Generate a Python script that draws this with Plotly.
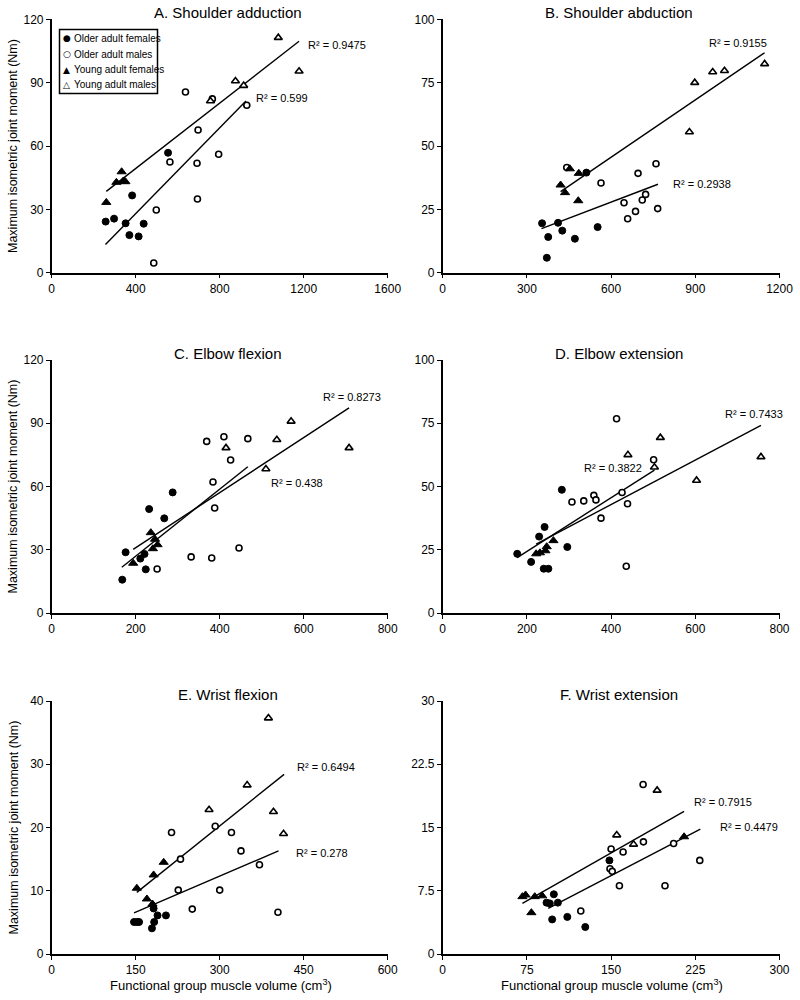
import plotly.graph_objects as go

# ---------------- data ----------------
GROUPS = ["Older adult females", "Older adult males", "Young adult females", "Young adult males"]
LEGEND_GLYPHS = ["●", "○", "▲", "△"]

# Panel A: Shoulder adduction
A_OF_X = [257, 297, 352, 383, 370, 414, 438, 554]
A_OF_Y = [24.2, 25.6, 23.4, 36.6, 17.8, 17.2, 23.2, 56.8]
A_OM_X = [637, 563, 697, 692, 694, 765, 795, 929, 498, 486]
A_OM_Y = [85.6, 52.4, 67.6, 51.8, 34.9, 82.3, 56.1, 79.3, 29.7, 4.6]
A_YF_X = [260, 308, 333, 341, 351]
A_YF_Y = [33.3, 42.8, 47.8, 43.4, 43.1]
A_YM_X = [756, 875, 914, 1079, 1178]
A_YM_Y = [81.3, 90.8, 88.6, 111.3, 95.4]
A_FIT_YOUNG_X = [260, 1178]
A_FIT_YOUNG_Y = [38.5, 109.6]
A_FIT_OLD_X = [256, 925]
A_FIT_OLD_Y = [13.4, 81.3]
A_R2 = ["R² = 0.9475", "R² = 0.599"]

# Panel B: Shoulder abduction
B_OF_X = [354, 376, 371, 411, 426, 471, 552, 512]
B_OF_Y = [19.5, 14.1, 5.9, 19.7, 16.6, 13.4, 18.0, 39.5]
B_OM_X = [442, 564, 646, 659, 687, 711, 723, 696, 760, 766]
B_OM_Y = [41.5, 35.4, 27.6, 21.3, 24.2, 28.7, 30.9, 39.2, 43.0, 25.3]
B_YF_X = [420, 436, 453, 485, 483]
B_YF_Y = [34.6, 31.6, 41.0, 39.2, 28.4]
B_YM_X = [898, 962, 1004, 1147, 879]
B_YM_Y = [75.0, 79.2, 79.7, 82.4, 55.5]
B_FIT_YOUNG_X = [420, 1147]
B_FIT_YOUNG_Y = [32.0, 86.8]
B_FIT_OLD_X = [352, 767]
B_FIT_OLD_Y = [17.4, 34.9]
B_R2 = ["R² = 0.9155", "R² = 0.2938"]

# Panel C: Elbow flexion
C_OF_X = [168, 176, 211, 221, 224, 232, 268, 288]
C_OF_Y = [15.8, 28.8, 25.8, 28.0, 20.7, 49.3, 44.9, 57.2]
C_OM_X = [251, 332, 381, 446, 369, 410, 467, 426, 384, 388]
C_OM_Y = [20.9, 26.6, 26.1, 30.8, 81.4, 83.6, 82.7, 72.6, 62.1, 49.8]
C_YF_X = [194, 236, 241, 246, 252]
C_YF_Y = [23.6, 38.1, 30.5, 35.0, 32.4]
C_YM_X = [415, 510, 536, 570, 708]
C_YM_Y = [78.3, 68.3, 82.2, 90.9, 78.3]
C_FIT_YOUNG_X = [194, 708]
C_FIT_YOUNG_Y = [30.2, 97.3]
C_FIT_OLD_X = [167, 467]
C_FIT_OLD_Y = [21.7, 69.4]
C_R2 = ["R² = 0.8273", "R² = 0.438"]

# Panel D: Elbow extension
D_OF_X = [177, 210, 229, 242, 240, 251, 283, 296]
D_OF_Y = [23.4, 20.2, 30.2, 34.0, 17.5, 17.5, 48.7, 26.1]
D_OM_X = [307, 335, 359, 364, 376, 413, 426, 439, 436, 501]
D_OM_Y = [43.9, 44.3, 46.5, 44.7, 37.5, 76.8, 47.6, 43.2, 18.5, 60.6]
D_YF_X = [222, 231, 244, 247, 263]
D_YF_Y = [23.4, 23.8, 24.6, 26.2, 28.6]
D_YM_X = [440, 503, 517, 603, 756]
D_YM_Y = [62.5, 57.6, 69.3, 52.4, 61.7]
D_FIT_YOUNG_X = [222, 756]
D_FIT_YOUNG_Y = [27.2, 74.2]
D_FIT_OLD_X = [177, 503]
D_FIT_OLD_Y = [21.9, 56.5]
D_R2 = ["R² = 0.7433", "R² = 0.3822"]

# Panel E: Wrist flexion
E_OF_X = [147, 152, 156, 179, 183, 189, 204, 182]
E_OF_Y = [5.06, 5.06, 5.06, 4.06, 5.06, 6.1, 6.1, 7.2]
E_OM_X = [214, 230, 226, 251, 292, 300, 321, 338, 371, 404]
E_OM_Y = [19.2, 15.0, 10.1, 7.1, 20.2, 10.1, 19.2, 16.3, 14.1, 6.6]
E_YF_X = [152, 170, 182, 200, 180]
E_YF_Y = [10.4, 8.7, 12.5, 14.5, 7.9]
E_YM_X = [281, 349, 387, 396, 414]
E_YM_Y = [22.8, 26.7, 37.3, 22.5, 19.0]
E_FIT_YOUNG_X = [152, 415]
E_FIT_YOUNG_Y = [9.75, 28.4]
E_FIT_OLD_X = [147, 405]
E_FIT_OLD_Y = [6.5, 16.3]
E_R2 = ["R² = 0.6494", "R² = 0.278"]

# Panel F: Wrist extension
F_OF_X = [99, 92.5, 95.4, 102.6, 97.5, 111, 127, 148.5]
F_OF_Y = [7.08, 6.09, 6.0, 6.09, 4.1, 4.4, 3.2, 11.1]
F_OM_X = [123, 150, 149, 151, 160.7, 157.4, 178.5, 178.8, 198, 205.7, 229]
F_OM_Y = [5.1, 12.45, 10.1, 9.8, 12.1, 8.1, 20.1, 13.3, 8.1, 13.1, 11.1]
F_YF_X = [71, 73.8, 79, 82, 88.6, 215]
F_YF_Y = [6.8, 7.0, 4.9, 6.8, 6.9, 13.9]
F_YM_X = [155, 170, 191]
F_YM_Y = [14.1, 13.0, 19.4]
F_FIT_YOUNG_X = [71, 215]
F_FIT_YOUNG_Y = [6.0, 16.9]
F_FIT_OLD_X = [94, 229.5]
F_FIT_OLD_Y = [5.4, 14.8]
F_R2 = ["R² = 0.7915", "R² = 0.4479"]

TITLES = ["A. Shoulder adduction", "B. Shoulder abduction", "C. Elbow flexion",
          "D. Elbow extension", "E. Wrist flexion", "F. Wrist extension"]
X_TICKS = [[0, 400, 800, 1200, 1600], [0, 300, 600, 900, 1200], [0, 200, 400, 600, 800],
           [0, 200, 400, 600, 800], [0, 150, 300, 450, 600], [0, 75, 150, 225, 300]]
Y_TICKS = [[0, 30, 60, 90, 120], [0, 25, 50, 75, 100], [0, 30, 60, 90, 120],
           [0, 25, 50, 75, 100], [0, 10, 20, 30, 40], [0, 7.5, 15, 22.5, 30]]
Y_TITLE = "Maximum isometric joint moment (Nm)"
X_TITLE = "Functional group muscle volume (cm<sup>3</sup>)"

PANELS = [
    (A_OF_X, A_OF_Y, A_OM_X, A_OM_Y, A_YF_X, A_YF_Y, A_YM_X, A_YM_Y,
     A_FIT_YOUNG_X, A_FIT_YOUNG_Y, A_FIT_OLD_X, A_FIT_OLD_Y, A_R2),
    (B_OF_X, B_OF_Y, B_OM_X, B_OM_Y, B_YF_X, B_YF_Y, B_YM_X, B_YM_Y,
     B_FIT_YOUNG_X, B_FIT_YOUNG_Y, B_FIT_OLD_X, B_FIT_OLD_Y, B_R2),
    (C_OF_X, C_OF_Y, C_OM_X, C_OM_Y, C_YF_X, C_YF_Y, C_YM_X, C_YM_Y,
     C_FIT_YOUNG_X, C_FIT_YOUNG_Y, C_FIT_OLD_X, C_FIT_OLD_Y, C_R2),
    (D_OF_X, D_OF_Y, D_OM_X, D_OM_Y, D_YF_X, D_YF_Y, D_YM_X, D_YM_Y,
     D_FIT_YOUNG_X, D_FIT_YOUNG_Y, D_FIT_OLD_X, D_FIT_OLD_Y, D_R2),
    (E_OF_X, E_OF_Y, E_OM_X, E_OM_Y, E_YF_X, E_YF_Y, E_YM_X, E_YM_Y,
     E_FIT_YOUNG_X, E_FIT_YOUNG_Y, E_FIT_OLD_X, E_FIT_OLD_Y, E_R2),
    (F_OF_X, F_OF_Y, F_OM_X, F_OM_Y, F_YF_X, F_YF_Y, F_YM_X, F_YM_Y,
     F_FIT_YOUNG_X, F_FIT_YOUNG_Y, F_FIT_OLD_X, F_FIT_OLD_Y, F_R2),
]

# label positions for the R² texts (data coords): (young label, old label)
R2_POS = [((1357, 107.9), (1095, 82.6)), ((1053, 90.5), (924, 34.9)),
          ((714, 102.6), (584, 61.5)), ((740, 78.5), (405, 57.2)),
          ((489, 29.5), (483, 16.0)), ((250, 18.0), (273, 15.1))]

# ---------------- layout geometry (screen pixels of the 800x1000 window) ----------------
W, H = 800, 1000
COL_X = [(51.7, 387.7), (442.7, 779.5)]
ROW_Y = [(19.3, 272.7), (360.0, 613.0), (701.0, 954.0)]


def px(x):
    return x / W


def py(y):
    return 1 - y / H


FONT = "Liberation Sans, Arial, sans-serif"
BLACK = "#000000"

MARKERS = [
    dict(symbol="circle", size=7, color=BLACK, line=dict(color=BLACK, width=1)),
    dict(symbol="circle", size=6, color="white", line=dict(color=BLACK, width=1.6)),
    dict(symbol="triangle-up", size=8, color=BLACK, line=dict(color=BLACK, width=1)),
    dict(symbol="triangle-up", size=7, color="white", line=dict(color=BLACK, width=1.6)),
]

fig = go.Figure()
annotations = []
shapes = []

for i, p in enumerate(PANELS):
    row, col = divmod(i, 2)
    n = "" if i == 0 else str(i + 1)
    xa, ya = "x" + n, "y" + n
    (ofx, ofy, omx, omy, yfx, yfy, ymx, ymy, fyx, fyy, fox, foy, r2) = p

    # trend lines
    for lx, ly in ((fyx, fyy), (fox, foy)):
        fig.add_trace(go.Scatter(x=lx, y=ly, mode="lines", xaxis=xa, yaxis=ya,
                                 line=dict(color=BLACK, width=1.4),
                                 showlegend=False, hoverinfo="skip"))
    # points
    for g, (gx, gy) in enumerate(((ofx, ofy), (omx, omy), (yfx, yfy), (ymx, ymy))):
        fig.add_trace(go.Scatter(x=gx, y=gy, mode="markers", xaxis=xa, yaxis=ya,
                                 name=GROUPS[g], marker=MARKERS[g],
                                 legendgroup=GROUPS[g], showlegend=False))

    x0, x1 = COL_X[col]
    y0, y1 = ROW_Y[row]
    xt, yt = X_TICKS[i], Y_TICKS[i]
    axis_common = dict(showgrid=False, zeroline=False, showline=True, linecolor=BLACK,
                       linewidth=1.5, ticks="outside", ticklen=4, tickwidth=1,
                       tickcolor=BLACK, automargin=False,
                       tickfont=dict(family=FONT, size=12, color=BLACK))
    fig.update_layout(**{
        ("xaxis" + n): dict(domain=[px(x0), px(x1)], range=[xt[0], xt[-1]],
                            tickvals=xt, ticktext=[f"{v:g}" for v in xt],
                            anchor=ya, **axis_common),
        ("yaxis" + n): dict(domain=[py(y1), py(y0)], range=[yt[0], yt[-1]],
                            tickvals=yt, ticktext=[f"{v:g}" for v in yt],
                            anchor=xa, **axis_common),
    })

    # panel title
    annotations.append(dict(text=TITLES[i], xref="paper", yref="paper",
                            x=px((x0 + x1) / 2 + 8), y=py(y0 - 7),
                            xanchor="center", yanchor="middle", showarrow=False,
                            font=dict(family=FONT, size=15, color=BLACK)))
    # R² labels
    for txt, (lx, ly) in zip(r2, R2_POS[i]):
        annotations.append(dict(text=txt, xref=xa, yref=ya, x=lx, y=ly,
                                xanchor="center", yanchor="middle", showarrow=False,
                                font=dict(family=FONT, size=11, color=BLACK)))
    # y titles (left column)
    if col == 0:
        annotations.append(dict(text=Y_TITLE, xref="paper", yref="paper",
                                x=px(13), y=py((y0 + y1) / 2), textangle=-90,
                                xanchor="center", yanchor="middle", showarrow=False,
                                font=dict(family=FONT, size=12.5, color=BLACK)))
    # x titles (bottom row)
    if row == 2:
        annotations.append(dict(text=X_TITLE, xref="paper", yref="paper",
                                x=px((x0 + x1) / 2 + 1), y=py(985),
                                xanchor="center", yanchor="middle", showarrow=False,
                                font=dict(family=FONT, size=13, color=BLACK)))

# ---- compact legend box inside panel A (as in the reference) ----
LEG_LEFT, LEG_TOP, LEG_RIGHT, LEG_BOTTOM = 59.5, 29.5, 157.5, 93.5
shapes.append(dict(type="rect", xref="paper", yref="paper",
                   x0=px(LEG_LEFT), x1=px(LEG_RIGHT),
                   y0=py(LEG_BOTTOM), y1=py(LEG_TOP),
                   line=dict(color=BLACK, width=1.5), fillcolor="white", layer="above"))
for k, (glyph, name) in enumerate(zip(LEGEND_GLYPHS, GROUPS)):
    yc = 38.5 + k * 15.5
    annotations.append(dict(text=glyph, xref="paper", yref="paper",
                            x=px(66.5), y=py(yc), xanchor="center", yanchor="middle",
                            showarrow=False,
                            font=dict(family="DejaVu Sans", size=9, color=BLACK)))
    annotations.append(dict(text=name, xref="paper", yref="paper",
                            x=px(71.5), y=py(yc), xanchor="left", yanchor="middle",
                            showarrow=False,
                            font=dict(family=FONT, size=10, color=BLACK)))

fig.update_layout(
    width=W, height=H, margin=dict(l=0, r=0, t=0, b=0, autoexpand=False),
    paper_bgcolor="white", plot_bgcolor="white",
    annotations=annotations, shapes=shapes, showlegend=False,
)

fig.write_html("out.html", config={"displayModeBar": False},
               post_script="document.body.style.margin='0';document.body.style.padding='0';")
